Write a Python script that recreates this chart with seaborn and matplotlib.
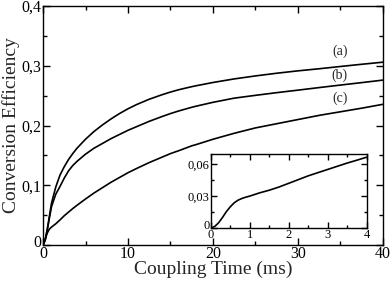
import matplotlib
matplotlib.use("Agg")
import matplotlib.pyplot as plt
import matplotlib.transforms as mtrans
import seaborn as sns
import pandas as pd
from matplotlib.ticker import MultipleLocator, FuncFormatter

# ---- data ----
t_main = [0, 0.25, 0.5, 0.75, 1, 1.5, 2, 2.5, 3, 3.5, 4, 5, 6, 7, 8, 9, 10, 11, 12.5, 14, 15, 16, 17.5,
          18, 20, 22.5, 25, 27.5, 30, 32.5, 35, 37.5, 40]
eff_a = [0, 0.008, 0.026, 0.048, 0.070, 0.097, 0.117, 0.131, 0.143, 0.153, 0.162, 0.177, 0.190, 0.201,
         0.211, 0.220, 0.228, 0.235, 0.244, 0.2515, 0.256, 0.260, 0.265, 0.2665, 0.272, 0.278, 0.283,
         0.2875, 0.2915, 0.295, 0.2988, 0.3025, 0.306]
eff_b = [0, 0.008, 0.025, 0.045, 0.064, 0.085, 0.098, 0.112, 0.124, 0.133, 0.140, 0.152, 0.162, 0.170,
         0.178, 0.185, 0.192, 0.198, 0.207, 0.215, 0.220, 0.2245, 0.2305, 0.2323, 0.2388, 0.2458, 0.2505,
         0.2550, 0.2592, 0.2635, 0.2677, 0.2718, 0.276]
eff_c = [0, 0.009, 0.020, 0.0265, 0.030, 0.0355, 0.042, 0.049, 0.055, 0.061, 0.0665, 0.077, 0.087,
         0.096, 0.105, 0.113, 0.121, 0.128, 0.138, 0.147, 0.153, 0.158, 0.166, 0.168, 0.177, 0.187,
         0.196, 0.203, 0.210, 0.217, 0.223, 0.229, 0.2355]
curve_labels = ["(a)", "(b)", "(c)"]
label_pos_t = [34.9, 34.9, 34.9]
label_pos_v = [0.3235, 0.2845, 0.2455]

t_inset = [0, 0.1, 0.2, 0.3, 0.4, 0.5, 0.6, 0.7, 0.8, 0.9, 1.0, 1.25, 1.5, 1.75, 2.0, 2.25, 2.5, 2.75,
           3.0, 3.25, 3.5, 3.75, 4.0]
eff_inset = [0, 0.0015, 0.005, 0.010, 0.0155, 0.020, 0.0237, 0.0262, 0.0278, 0.029, 0.030, 0.033,
             0.0355, 0.0385, 0.042, 0.0455, 0.049, 0.052, 0.055, 0.058, 0.061, 0.0637, 0.0665]

main_xticks = [0, 10, 20, 30, 40]
main_yticks = [0, 0.1, 0.2, 0.3, 0.4]
inset_xticks = [0, 1, 2, 3, 4]
inset_yticks = [0, 0.03, 0.06]

# ---- style ----
sns.set_theme(style="ticks")
plt.rcParams["font.family"] = ["Liberation Serif", "DejaVu Serif"]


def comma_fmt(v, pos):
    if abs(v) < 1e-12:
        return "0"
    s = ("%.2f" % v).rstrip("0").rstrip(".")
    return s.replace(".", ",")


def style_axes(ax, maj_len, min_len, lw):
    ax.tick_params(which="both", direction="in", top=True, right=True,
                   width=lw, colors="black")
    ax.tick_params(which="major", length=maj_len)
    ax.tick_params(which="minor", length=min_len)
    for sp in ax.spines.values():
        sp.set_visible(True)
        sp.set_linewidth(lw)
        sp.set_color("black")


def nudge_first_ylabel(fig, ax, dy_pts):
    lab = ax.get_yticklabels()[0]
    off = mtrans.ScaledTranslation(0, dy_pts / 72.0, fig.dpi_scale_trans)
    lab.set_transform(lab.get_transform() + off)


fig = plt.figure(figsize=(3.92, 2.81), dpi=100)
ax = fig.add_axes([0.1097, 0.1281, 0.8673, 0.8505])

df = pd.DataFrame({"t": t_main * 3,
                   "eff": eff_a + eff_b + eff_c,
                   "curve": ["a"] * len(t_main) + ["b"] * len(t_main) + ["c"] * len(t_main)})
sns.lineplot(data=df, x="t", y="eff", units="curve", estimator=None,
             color="black", linewidth=1.2, ax=ax, legend=False)

ax.set_xlim(0, 40)
ax.set_ylim(0, 0.4)
ax.set_xticks(main_xticks)
ax.set_yticks(main_yticks)
ax.xaxis.set_minor_locator(MultipleLocator(5))
ax.yaxis.set_minor_locator(MultipleLocator(0.05))
ax.yaxis.set_major_formatter(FuncFormatter(comma_fmt))
ax.xaxis.set_major_formatter(FuncFormatter(comma_fmt))
ax.tick_params(labelsize=11.5, pad=1)
style_axes(ax, 5, 3, 1.0)
ax.set_xlabel("Coupling Time (ms)", fontsize=14, labelpad=-1)
ax.set_ylabel("Conversion Efficiency", fontsize=14, labelpad=1)

for lab, tx, ty in zip(curve_labels, label_pos_t, label_pos_v):
    ax.text(tx, ty, lab, fontsize=10, ha="center", va="center")

# ---- inset ----
axi = fig.add_axes([0.538, 0.1886, 0.397, 0.2651])
sns.lineplot(x=t_inset, y=eff_inset, color="black", linewidth=1.2, ax=axi)
axi.set_xlim(0, 4)
axi.set_ylim(0, 0.07)
axi.set_xticks(inset_xticks)
axi.set_yticks(inset_yticks)
axi.xaxis.set_minor_locator(MultipleLocator(0.5))
axi.yaxis.set_minor_locator(MultipleLocator(0.015))
axi.yaxis.set_major_formatter(FuncFormatter(comma_fmt))
axi.xaxis.set_major_formatter(FuncFormatter(comma_fmt))
axi.tick_params(labelsize=9, pad=1)
style_axes(axi, 4, 2, 1.0)
axi.set_xlabel("")
axi.set_ylabel("")

fig.canvas.draw()
nudge_first_ylabel(fig, ax, 3.0)
nudge_first_ylabel(fig, axi, 2.5)

fig.savefig("out.png", dpi=100)
